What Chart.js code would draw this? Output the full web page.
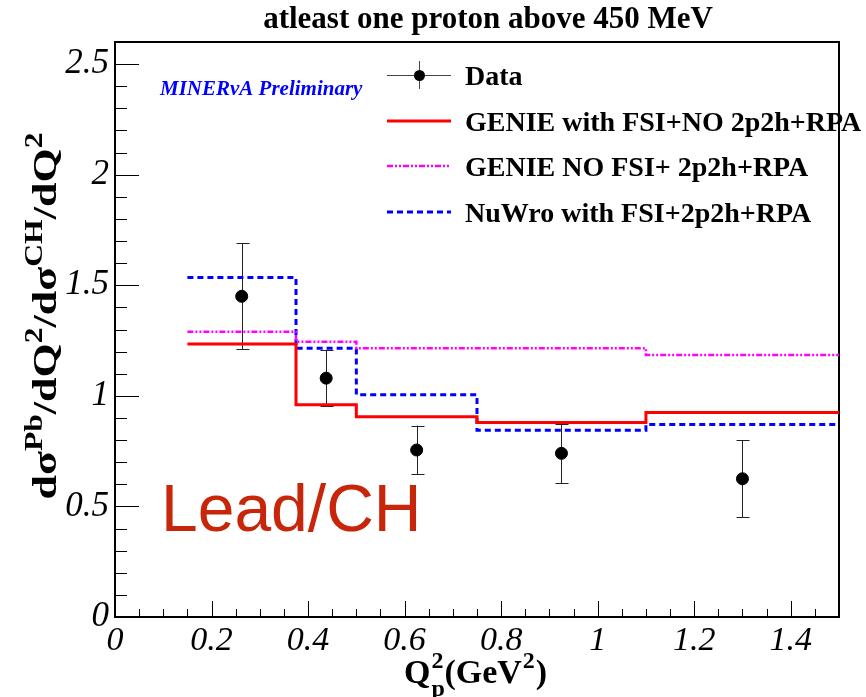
<!DOCTYPE html>
<html>
<head>
<meta charset="utf-8">
<script src="https://cdn.jsdelivr.net/npm/chart.js@4.4.1/dist/chart.umd.min.js"></script>
<style>
  html, body { margin: 0; padding: 0; background: #fff; }
  #wrap { width: 866px; height: 697px; }
</style>
</head>
<body>
<div id="wrap"><canvas id="chart"></canvas></div>
<script>
// bin edges in Q2 (GeV^2)
var binEdges = [0.15, 0.375, 0.5, 0.75, 1.1, 1.5];
// model ratios per bin
var genieFsi = [1.235, 0.96, 0.905, 0.88, 0.925];
var genieNoFsi = [1.29, 1.245, 1.215, 1.215, 1.185];
var nuwro = [1.535, 1.215, 1.005, 0.845, 0.87];
// data points
var dataX = [0.2625, 0.4375, 0.625, 0.925, 1.3];
var dataY = [1.45, 1.08, 0.755, 0.74, 0.625];
var dataErr = [0.24, 0.128, 0.11, 0.134, 0.175];

var seriesLabels = ["Data", "GENIE with FSI+NO 2p2h+RPA", "GENIE NO FSI+ 2p2h+RPA", "NuWro with FSI+2p2h+RPA"];
var titleText = "atleast one proton above 450 MeV";

var SERIF = "'Liberation Serif', 'Times New Roman', serif";

function steps(vals) {
  return binEdges.map(function (e, i) {
    return { x: e, y: vals[Math.min(i, vals.length - 1)] };
  });
}

// draws text pieces on one baseline; pieces: [text, 'n'|'sup'|'sub']
function drawRich(ctx, pieces, size, x, y, target) {
  var small = size * 0.72;
  var widths = pieces.map(function (p) {
    ctx.font = 'bold ' + (p[1] === 'n' ? size : small) + 'px ' + SERIF;
    return ctx.measureText(p[0]).width;
  });
  var total = widths.reduce(function (a, b) { return a + b; }, 0);
  var sx = target ? target / total : 1;
  ctx.save();
  ctx.translate(x, y);
  ctx.scale(sx, 1);
  var cx = -total / 2;
  ctx.textBaseline = 'alphabetic';
  ctx.textAlign = 'left';
  pieces.forEach(function (p, i) {
    ctx.font = 'bold ' + (p[1] === 'n' ? size : small) + 'px ' + SERIF;
    var dy = p[1] === 'sup' ? -size * 0.42 : (p[1] === 'sub' ? size * 0.28 : 0);
    ctx.fillText(p[0], cx, dy);
    cx += widths[i];
  });
  ctx.restore();
}

var rootStyle = {
  id: 'rootStyle',
  beforeDatasetsDraw: function (chart) {
    var ctx = chart.ctx, a = chart.chartArea;
    var xs = chart.scales.x, ys = chart.scales.y;
    ctx.save();
    // frame
    ctx.strokeStyle = '#000';
    ctx.lineWidth = 2;
    ctx.strokeRect(a.left, a.top, a.right - a.left, a.bottom - a.top);
    // inner ticks
    ctx.lineWidth = 1;
    ctx.beginPath();
    for (var i = 0; i <= 30; i++) {
      var px = Math.round(xs.getPixelForValue(i * 0.05)) + 0.5;
      var len = (i % 4 === 0) ? 16 : 8;
      ctx.moveTo(px, a.bottom);
      ctx.lineTo(px, a.bottom - len);
    }
    for (var j = 0; j <= 26; j++) {
      var py = Math.round(ys.getPixelForValue(j * 0.1)) + 0.5;
      var l = (j % 5 === 0) ? 24 : 12;
      ctx.moveTo(a.left, py);
      ctx.lineTo(a.left + l, py);
    }
    ctx.stroke();
    // error bars
    ctx.strokeStyle = '#222';
    ctx.beginPath();
    dataX.forEach(function (v, k) {
      var x = Math.round(xs.getPixelForValue(v)) + 0.5;
      var y1 = ys.getPixelForValue(dataY[k] + dataErr[k]);
      var y2 = ys.getPixelForValue(dataY[k] - dataErr[k]);
      ctx.moveTo(x, y1); ctx.lineTo(x, y2);
      ctx.moveTo(x - 6, Math.round(y1) + 0.5); ctx.lineTo(x + 7, Math.round(y1) + 0.5);
      ctx.moveTo(x - 6, Math.round(y2) + 0.5); ctx.lineTo(x + 7, Math.round(y2) + 0.5);
    });
    ctx.stroke();
    ctx.restore();
  },
  afterDraw: function (chart) {
    var ctx = chart.ctx;
    ctx.save();
    // title
    ctx.fillStyle = '#000';
    ctx.font = 'bold 31px ' + SERIF;
    ctx.textAlign = 'center';
    ctx.textBaseline = 'alphabetic';
    ctx.fillText(titleText, 488, 28);

    // axis titles
    ctx.save();
    ctx.translate(56, 316);
    ctx.rotate(-Math.PI / 2);
    drawRich(ctx, [['d\u03c3', 'n'], ['Pb', 'sup'], ['/dQ', 'n'], ['2', 'sup'], ['/d\u03c3', 'n'], ['CH', 'sup'], ['/dQ', 'n'], ['2', 'sup']], 34, 0, 0, 367);
    ctx.restore();

    ctx.font = 'bold 34px ' + SERIF;
    ctx.textAlign = 'left';
    var qx = 404, qy = 683;
    ctx.fillText('Q', qx, qy);
    var qw = ctx.measureText('Q').width;
    ctx.font = 'bold 24px ' + SERIF;
    ctx.fillText('2', qx + qw + 1, qy - 15);
    ctx.fillText('p', qx + qw + 1, qy + 13);
    ctx.font = 'bold 34px ' + SERIF;
    var px2 = qx + qw + 14;
    ctx.fillText('(GeV', px2, qy);
    var gw = ctx.measureText('(GeV').width;
    ctx.font = 'bold 24px ' + SERIF;
    ctx.fillText('2', px2 + gw + 1, qy - 15);
    ctx.font = 'bold 34px ' + SERIF;
    ctx.fillText(')', px2 + gw + 14, qy);

    // MINERvA label
    ctx.fillStyle = '#0000ff';
    ctx.font = 'italic bold 21px ' + SERIF;
    ctx.fillText('MINER\u03bdA Preliminary', 160, 95);

    // Lead/CH
    ctx.fillStyle = '#c8260a';
    ctx.font = "66px 'Liberation Sans', Arial, sans-serif";
    ctx.fillText('Lead/CH', 161, 531);

    // legend
    var ds = chart.data.datasets;
    var rows = [75, 121, 166, 212];
    var x0 = 387, x1 = 451, tx = 465;
    ctx.font = 'bold 28px ' + SERIF;
    ds.forEach(function (d, i) {
      var y = rows[i];
      ctx.save();
      if (i === 0) {
        ctx.strokeStyle = '#444';
        ctx.lineWidth = 1;
        ctx.beginPath();
        ctx.moveTo(x0, y + 0.5); ctx.lineTo(x1, y + 0.5);
        ctx.moveTo(419.5, y - 14); ctx.lineTo(419.5, y + 14);
        ctx.stroke();
        ctx.fillStyle = '#000';
        ctx.beginPath();
        ctx.arc(419.5, y + 0.5, 5.5, 0, Math.PI * 2);
        ctx.fill();
      } else {
        ctx.strokeStyle = d.borderColor;
        ctx.lineWidth = d.borderWidth;
        ctx.setLineDash(d.borderDash || []);
        ctx.beginPath();
        ctx.moveTo(x0, y); ctx.lineTo(x1, y);
        ctx.stroke();
      }
      ctx.restore();
      ctx.fillStyle = '#000';
      ctx.fillText(d.label, tx, y + 10);
    });
    ctx.restore();
  }
};

function plainNumber(v) { return String(Math.round(v * 100) / 100); }

new Chart(document.getElementById('chart'), {
  type: 'scatter',
  data: {
    datasets: [
      {
        label: seriesLabels[0],
        data: dataX.map(function (x, i) { return { x: x, y: dataY[i] }; }),
        backgroundColor: '#000',
        borderColor: '#000',
        pointRadius: 6,
        pointHoverRadius: 6,
        showLine: false
      },
      {
        label: seriesLabels[1],
        data: steps(genieFsi),
        borderColor: '#ff0000',
        borderWidth: 3,
        stepped: 'before',
        showLine: true,
        pointRadius: 0
      },
      {
        label: seriesLabels[2],
        data: steps(genieNoFsi),
        borderColor: '#ff00ff',
        borderWidth: 2.5,
        borderDash: [6, 2, 2, 2, 2, 2],
        stepped: 'before',
        showLine: true,
        pointRadius: 0
      },
      {
        label: seriesLabels[3],
        data: steps(nuwro),
        borderColor: '#0000ff',
        borderWidth: 3,
        borderDash: [6, 4],
        stepped: 'before',
        showLine: true,
        pointRadius: 0
      }
    ]
  },
  options: {
    responsive: true,
    maintainAspectRatio: false,
    animation: false,
    layout: { padding: { top: 42, right: 27, left: 0, bottom: 0 } },
    plugins: {
      legend: { display: false },
      title: { display: false },
      tooltip: { enabled: false }
    },
    scales: {
      x: {
        type: 'linear',
        min: 0,
        max: 1.5,
        grid: { display: false, drawTicks: false },
        border: { display: false },
        afterFit: function (s) { s.height = 80; },
        ticks: {
          stepSize: 0.2,
          includeBounds: false,
          autoSkip: false,
          maxRotation: 0,
          padding: 4,
          color: '#000',
          font: { family: SERIF, style: 'italic', size: 34 },
          callback: plainNumber
        }
      },
      y: {
        min: 0,
        max: 2.6,
        grid: { display: false, drawTicks: false },
        border: { display: false },
        afterFit: function (s) { s.width = 115; },
        ticks: {
          stepSize: 0.5,
          includeBounds: false,
          padding: 6,
          color: '#000',
          font: { family: SERIF, style: 'italic', size: 35 },
          callback: plainNumber
        }
      }
    }
  },
  plugins: [rootStyle]
});
</script>
</body>
</html>
